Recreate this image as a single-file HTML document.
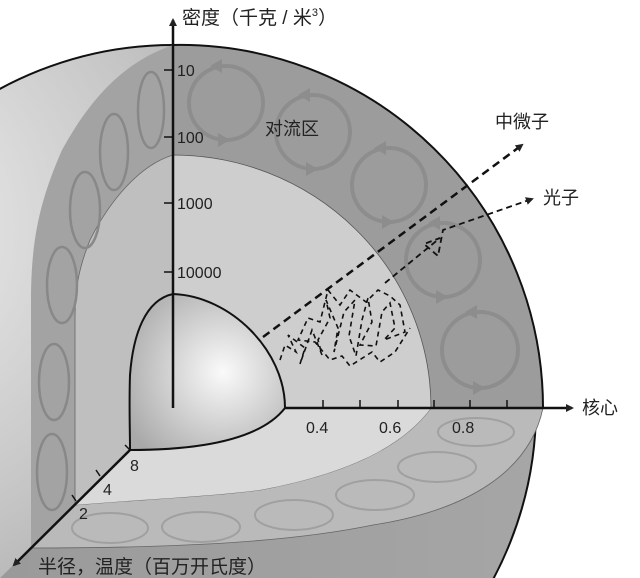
<!DOCTYPE html>
<html><head><meta charset="utf-8"><style>
html,body{margin:0;padding:0;background:#fff;overflow:hidden;}
svg{display:block;}
text{font-family:"Liberation Sans","Noto Sans CJK SC",sans-serif;fill:#222;}
</style></head><body>
<svg width="640" height="578" viewBox="0 0 640 578" xmlns="http://www.w3.org/2000/svg">
<defs>
<radialGradient id="sph" cx="0.05" cy="0.25" r="0.9">
<stop offset="0" stop-color="#f4f4f4"/><stop offset="0.5" stop-color="#c4c4c4"/><stop offset="1" stop-color="#8a8a8a"/>
</radialGradient>
<linearGradient id="low" x1="0" y1="0" x2="1" y2="0">
<stop offset="0" stop-color="#9a9a9a"/><stop offset="1" stop-color="#a8a8a8"/>
</linearGradient>
<radialGradient id="core" cx="0.6" cy="0.5" r="0.7">
<stop offset="0" stop-color="#fafafa"/><stop offset="1" stop-color="#a9a9a9"/>
</radialGradient>
<clipPath id="cc"><circle cx="173" cy="408" r="363"/></clipPath>
<marker id="ah" markerWidth="8" markerHeight="8" refX="6" refY="4" orient="auto" markerUnits="userSpaceOnUse"><path d="M0,0 L8,4 L0,8 z" fill="#222"/></marker>
</defs>
<circle cx="173" cy="408" r="363" fill="url(#sph)"/>
<g clip-path="url(#cc)">
<path d="M543,408 C530,470 470,510 373,525 C300,540 200,548 31,548 L0,578 L640,578 L640,408 Z" fill="url(#low)"/>
</g>
<circle cx="173" cy="408" r="363" fill="none" stroke="#111" stroke-width="2"/>
<!-- left cut plane convection -->
<path d="M173,45 C130,60 95,90 62,150 C40,200 31,240 31,300 L31,548 L130,450 L173,408 Z" fill="#a3a3a3"/>
<path d="M173,155 C140,165 110,200 90,240 C78,270 75,290 75,320 L75,510 L130,450 L173,408 Z" fill="#bfbfbf" stroke="#666" stroke-width="0.8"/>
<!-- floor convection -->
<path d="M543,408 C530,470 470,510 373,525 C300,540 200,548 31,548 L75,505 C130,500 207,497 260,490 C340,475 400,450 431,408 Z" fill="#bababa" stroke="#666" stroke-width="0.8"/>
<path d="M431,408 C400,450 340,475 260,490 C207,497 130,500 75,505 L130,450 L173,408 Z" fill="#dadada"/>
<!-- right quarter plane -->
<path d="M173,45 A363,363 0 0 1 543,408 L173,408 Z" fill="#9c9c9c"/>
<path d="M173,155 A258,253 0 0 1 431,408 L173,408 Z" fill="#cecece" stroke="#555" stroke-width="0.8"/>
<path d="M173,45 A363,363 0 0 1 543,408" fill="none" stroke="#111" stroke-width="2"/>
<g fill="none" stroke="#8d8d8d" stroke-width="4">
<circle cx="226" cy="103" r="37"/><circle cx="313" cy="132" r="37"/><circle cx="389" cy="185" r="37"/><circle cx="443" cy="260" r="37"/><circle cx="480" cy="350" r="38"/>
</g>
<g fill="#8d8d8d">
<path d="M210,66 l12,-7 0,14z"/><path d="M230,140 l-12,7 0,-14z"/>
<path d="M298,95 l12,-7 0,14z"/><path d="M318,169 l-12,7 0,-14z"/>
<path d="M374,148 l12,-7 0,14z"/><path d="M394,222 l-12,7 0,-14z"/>
<path d="M428,223 l12,-7 0,14z"/><path d="M448,297 l-12,7 0,-14z"/>
<path d="M465,312 l12,-7 0,14z"/><path d="M485,388 l-12,7 0,-14z"/>
</g>
<g fill="none" stroke="#888" stroke-width="2.5">
<ellipse cx="151" cy="110" rx="13" ry="38"/><ellipse cx="114" cy="152" rx="14" ry="38"/><ellipse cx="85" cy="210" rx="15" ry="38"/><ellipse cx="62" cy="285" rx="15" ry="38"/><ellipse cx="54" cy="382" rx="15" ry="38"/><ellipse cx="52" cy="472" rx="15" ry="38"/>
</g>
<g fill="none" stroke="#a0a0a0" stroke-width="2">
<ellipse cx="476" cy="432" rx="38" ry="14"/><ellipse cx="437" cy="467" rx="39" ry="15"/><ellipse cx="375" cy="495" rx="39" ry="15"/><ellipse cx="294" cy="515" rx="39" ry="15"/><ellipse cx="201" cy="527" rx="39" ry="15"/><ellipse cx="110" cy="528" rx="38" ry="15"/>
</g>
<!-- core -->
<path d="M173,294 C145,300 133,335 130,375 C129,405 130,430 130,450 C200,450 260,440 285,408 C285,350 230,296 173,294 Z" fill="url(#core)" stroke="#111" stroke-width="2"/>
<line x1="263" y1="337" x2="522" y2="145" stroke="#111" stroke-width="2.5" stroke-dasharray="8,5" marker-end="url(#ah)"/>
<polyline points="280,360 285,345 296,352 288,335 305,348 300,364 312,330 322,355 318,340 330,318 326,300 338,328 334,352 344,312 355,300 349,336 356,356 362,320 368,298 372,322 360,345 376,346 382,312 390,303 395,328 384,340 405,332 400,305 390,296 378,290 366,302 350,290 340,305 328,290 320,322 308,318 298,340 315,342 330,360 342,356 350,366 372,352 380,362 395,352 410,328" fill="none" stroke="#111" stroke-width="1.6" stroke-dasharray="5,4"/>
<polyline points="385,283 440,238 424,244 438,256 443,230 532,199" fill="none" stroke="#111" stroke-width="1.8" stroke-dasharray="6,4" marker-end="url(#ah)"/>
<line x1="173" y1="408" x2="173" y2="20" stroke="#111" stroke-width="2.5" marker-end="url(#ah)"/>
<line x1="285" y1="408" x2="572" y2="408" stroke="#111" stroke-width="2.5" marker-end="url(#ah)"/>
<line x1="130" y1="450" x2="14" y2="565" stroke="#111" stroke-width="2.5" marker-end="url(#ah)"/>
<g stroke="#111" stroke-width="1.5">
<line x1="164" y1="70" x2="173" y2="70"/><line x1="164" y1="137" x2="173" y2="137"/><line x1="164" y1="203" x2="173" y2="203"/><line x1="164" y1="272" x2="173" y2="272"/>
<line x1="323" y1="408" x2="323" y2="400"/><line x1="360" y1="408" x2="360" y2="400"/><line x1="398" y1="408" x2="398" y2="400"/><line x1="434" y1="408" x2="434" y2="400"/><line x1="470" y1="408" x2="470" y2="400"/><line x1="507" y1="408" x2="507" y2="400"/>
<line x1="125" y1="445" x2="130" y2="450"/><line x1="96" y1="470" x2="100" y2="476"/><line x1="72" y1="495" x2="76" y2="501"/>
</g>
<g font-size="16">
<text x="177" y="76">10</text><text x="177" y="143">100</text><text x="177" y="209">1000</text><text x="177" y="278">10000</text>
<text x="306" y="433">0.4</text><text x="379" y="433">0.6</text><text x="452" y="433">0.8</text>
<text x="130" y="471">8</text><text x="103" y="495">4</text><text x="79" y="519">2</text>
</g>
<g font-size="19">
<text x="182" y="24">密度（千克 / 米<tspan font-size="11" dy="-8">3</tspan><tspan dy="8">）</tspan></text>
<text x="265" y="135" font-size="18">对流区</text>
<text x="495" y="128" font-size="18">中微子</text>
<text x="543" y="204" font-size="18">光子</text>
<text x="582" y="414" font-size="18">核心</text>
<text x="38" y="573">半径，温度（百万开氏度）</text>
</g>
</svg>
</body></html>
